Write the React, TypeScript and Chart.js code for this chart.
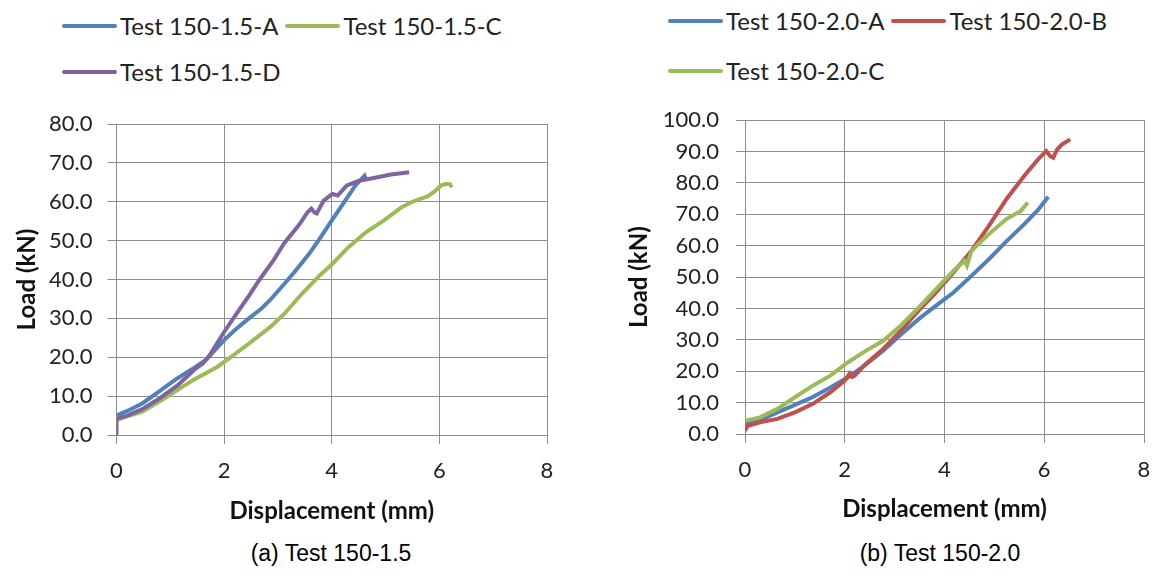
import React, { useEffect, useRef } from 'react';
import { Chart, registerables } from 'chart.js';

Chart.register(...registerables);

// ---------- Data: panel (a) Test 150-1.5 ----------
const dispA15 = [0, 0.25, 0.5, 0.8, 1.1, 1.47, 1.67, 2.0, 2.2, 2.46, 2.7, 2.86, 3.12, 3.3, 3.45, 3.6, 3.78, 4.01, 4.25, 4.44, 4.61, 4.63];
const loadA15 = [5.0, 6.5, 8.3, 11.3, 14.3, 17.5, 19.4, 24.4, 27.0, 30.0, 32.6, 34.8, 38.9, 41.8, 44.4, 47.0, 50.6, 55.4, 60.3, 64.2, 66.7, 66.0];

const dispC15 = [0, 0.2, 0.48, 0.94, 1.2, 1.47, 1.87, 2.13, 2.46, 2.86, 3.12, 3.45, 3.78, 4.01, 4.31, 4.64, 4.97, 5.3, 5.5, 5.63, 5.77, 5.9, 6.03, 6.13, 6.2, 6.23];
const loadC15 = [3.8, 4.8, 6.0, 9.8, 12.2, 14.5, 17.5, 20.1, 23.5, 27.8, 31.2, 36.4, 41.1, 44.0, 48.3, 52.2, 55.2, 58.6, 60.0, 60.7, 61.3, 62.5, 64.2, 64.6, 64.5, 63.7];

const dispD15 = [0, 0, 0.2, 0.5, 0.8, 1.14, 1.47, 1.6, 1.73, 2.0, 2.26, 2.46, 2.66, 2.92, 3.12, 3.39, 3.55, 3.62, 3.68, 3.72, 3.85, 4.01, 4.11, 4.28, 4.51, 4.78, 5.1, 5.44];
const loadD15 = [0, 4.2, 5.0, 6.8, 9.4, 12.8, 17.1, 18.3, 20.5, 26.5, 31.8, 35.8, 40.0, 45.0, 49.4, 54.0, 57.3, 58.2, 57.2, 57.0, 60.3, 62.0, 61.6, 64.2, 65.4, 66.1, 67.0, 67.6];

// ---------- Data: panel (b) Test 150-2.0 ----------
const dispA20 = [0, 0.3, 0.65, 1.0, 1.36, 1.71, 2.06, 2.42, 2.77, 3.12, 3.48, 3.83, 4.18, 4.54, 4.89, 5.24, 5.6, 5.88, 6.08];
const loadA20 = [3.0, 4.4, 6.9, 9.3, 11.8, 14.8, 18.0, 22.1, 26.5, 31.6, 36.6, 40.9, 45.1, 50.4, 55.7, 61.4, 66.9, 71.5, 75.6];

const dispB20 = [0, 0.05, 0.3, 0.65, 1.0, 1.36, 1.71, 2.0, 2.1, 2.15, 2.2, 2.42, 2.77, 3.12, 3.48, 3.83, 4.18, 4.54, 4.89, 5.24, 5.6, 5.88, 6.04, 6.12, 6.18, 6.25, 6.35, 6.52];
const loadB20 = [1.0, 2.5, 3.7, 4.8, 6.9, 9.6, 13.3, 17.0, 19.3, 18.2, 18.6, 22.3, 27.1, 32.9, 39.3, 45.1, 51.5, 58.4, 66.3, 74.8, 82.3, 87.6, 90.2, 88.5, 88.0, 90.5, 92.2, 93.9];

const dispC20 = [0, 0.3, 0.65, 1.0, 1.36, 1.71, 2.06, 2.42, 2.77, 3.12, 3.48, 3.83, 4.18, 4.4, 4.45, 4.54, 4.89, 5.24, 5.53, 5.67];
const loadC20 = [4.2, 5.3, 8.0, 11.7, 15.4, 18.6, 22.8, 26.5, 29.7, 34.5, 40.3, 46.2, 52.0, 55.2, 53.6, 58.4, 63.7, 68.5, 71.1, 73.8];

// ---------- Labels ----------
const labelsA = ['Test 150-1.5-A', 'Test 150-1.5-C', 'Test 150-1.5-D'];
const labelsB = ['Test 150-2.0-A', 'Test 150-2.0-B', 'Test 150-2.0-C'];
const captionA = '(a) Test 150-1.5';
const captionB = '(b) Test 150-2.0';
const xTitle = 'Displacement (mm)';
const yTitle = 'Load (kN)';
const xMax = 8;
const xStep = 2;
const yMaxA = 80;
const yMaxB = 100;
const yStep = 10;

const BLUE = '#4F81BD';
const RED = '#C0504D';
const GREEN = '#9BBB59';
const PURPLE = '#8064A2';
const GRID = '#8e8e8e';
const TEXT = '#222222';

type Series = { label: string; color: string; x: number[]; y: number[] };

const seriesA: Series[] = [
  { label: labelsA[0], color: BLUE, x: dispA15, y: loadA15 },
  { label: labelsA[1], color: GREEN, x: dispC15, y: loadC15 },
  { label: labelsA[2], color: PURPLE, x: dispD15, y: loadD15 },
];
const seriesB: Series[] = [
  { label: labelsB[0], color: BLUE, x: dispA20, y: loadA20 },
  { label: labelsB[1], color: RED, x: dispB20, y: loadB20 },
  { label: labelsB[2], color: GREEN, x: dispC20, y: loadC20 },
];

type Geo = {
  left: number; top: number; width: number; height: number;
  padRight: number; padTop: number;
  yAxisWidth: number; xAxisHeight: number;
  yTickPad: number; yTitlePad: number; xTickPad: number; xTitlePad: number;
};

function PanelChart({ series, yMax, geo }: { series: Series[]; yMax: number; geo: Geo }) {
  const ref = useRef<HTMLCanvasElement>(null);
  useEffect(() => {
    const tickFont = { family: 'Lato', size: 22 };
    const titleFont = { family: 'Lato', size: 24, weight: 'bold' as const };
    const chart = new Chart(ref.current!, {
      type: 'line',
      data: {
        datasets: series.map((s, i) => ({
          label: s.label,
          data: s.x.map((xv, j) => ({ x: xv, y: s.y[j] })),
          borderColor: s.color,
          backgroundColor: s.color,
          borderWidth: 4,
          pointRadius: 0,
          tension: 0,
          fill: false,
          order: series.length - i,
        })),
      },
      options: {
        animation: false,
        responsive: false,
        layout: { padding: { left: 0, right: geo.padRight, top: geo.padTop, bottom: 0 } },
        plugins: { legend: { display: false }, tooltip: { enabled: false } },
        scales: {
          x: {
            type: 'linear',
            min: 0,
            max: xMax,
            ticks: { stepSize: xStep, padding: geo.xTickPad, color: TEXT, font: tickFont },
            grid: { color: GRID, tickLength: 9, lineWidth: 1 },
            border: { color: GRID },
            title: { display: true, text: xTitle, color: '#111', font: titleFont, padding: { top: 0, bottom: geo.xTitlePad } },
            afterFit: (s: any) => { s.height = geo.xAxisHeight; },
          },
          y: {
            type: 'linear',
            min: 0,
            max: yMax,
            ticks: { stepSize: yStep, padding: geo.yTickPad, color: TEXT, font: tickFont, callback: (v: any) => Number(v).toFixed(1) },
            grid: { color: GRID, tickLength: 9, lineWidth: 1 },
            border: { color: GRID },
            title: { display: true, text: yTitle, color: '#111', font: titleFont, padding: { top: geo.yTitlePad, bottom: 0 } },
            afterFit: (s: any) => { s.width = geo.yAxisWidth; },
          },
        },
      },
    });
    return () => chart.destroy();
  }, []);
  return (
    <canvas
      ref={ref}
      width={geo.width}
      height={geo.height}
      style={{ position: 'absolute', left: geo.left, top: geo.top, width: geo.width, height: geo.height }}
    />
  );
}

function Legend({ series, left, top, rowGap }: { series: Series[]; left: number; top: number; rowGap: number }) {
  return (
    <div style={{ position: 'absolute', left, top, width: 450, display: 'flex', flexWrap: 'wrap', columnGap: 7, rowGap }}>
      {series.map((s) => (
        <div key={s.label} style={{ display: 'flex', alignItems: 'center', height: 30 }}>
          <div style={{ width: 55, height: 4, background: s.color, borderRadius: 2, marginRight: 3 }} />
          <span style={{ fontFamily: 'Lato', fontSize: 24, color: TEXT, whiteSpace: 'nowrap', lineHeight: '30px' }}>{s.label}</span>
        </div>
      ))}
    </div>
  );
}

const geoA: Geo = {
  left: 0, top: 90, width: 580, height: 440,
  padRight: 33, padTop: 34,
  yAxisWidth: 116.5, xAxisHeight: 95,
  yTickPad: 15, yTitlePad: 13, xTickPad: 14, xTitlePad: 4,
};
const geoB: Geo = {
  left: 590, top: 90, width: 575, height: 440,
  padRight: 21, padTop: 29,
  yAxisWidth: 155, xAxisHeight: 96,
  yTickPad: 17, yTitlePad: 35, xTickPad: 14, xTitlePad: 6,
};

export default function App() {
  return (
    <div style={{ position: 'fixed', left: 0, top: 0, width: 1155, height: 575, background: '#fff', overflow: 'hidden' }}>
      <Legend series={seriesA} left={62} top={11} rowGap={16} />
      <Legend series={seriesB} left={668} top={6} rowGap={20} />
      <PanelChart series={seriesA} yMax={yMaxA} geo={geoA} />
      <PanelChart series={seriesB} yMax={yMaxB} geo={geoB} />
      <div style={{ position: 'absolute', left: 131, width: 400, top: 539, textAlign: 'center', fontFamily: '"Liberation Sans", Arial, sans-serif', fontSize: 23, lineHeight: '28px', color: '#000' }}>{captionA}</div>
      <div style={{ position: 'absolute', left: 740, width: 400, top: 539, textAlign: 'center', fontFamily: '"Liberation Sans", Arial, sans-serif', fontSize: 23, lineHeight: '28px', color: '#000' }}>{captionB}</div>
    </div>
  );
}
